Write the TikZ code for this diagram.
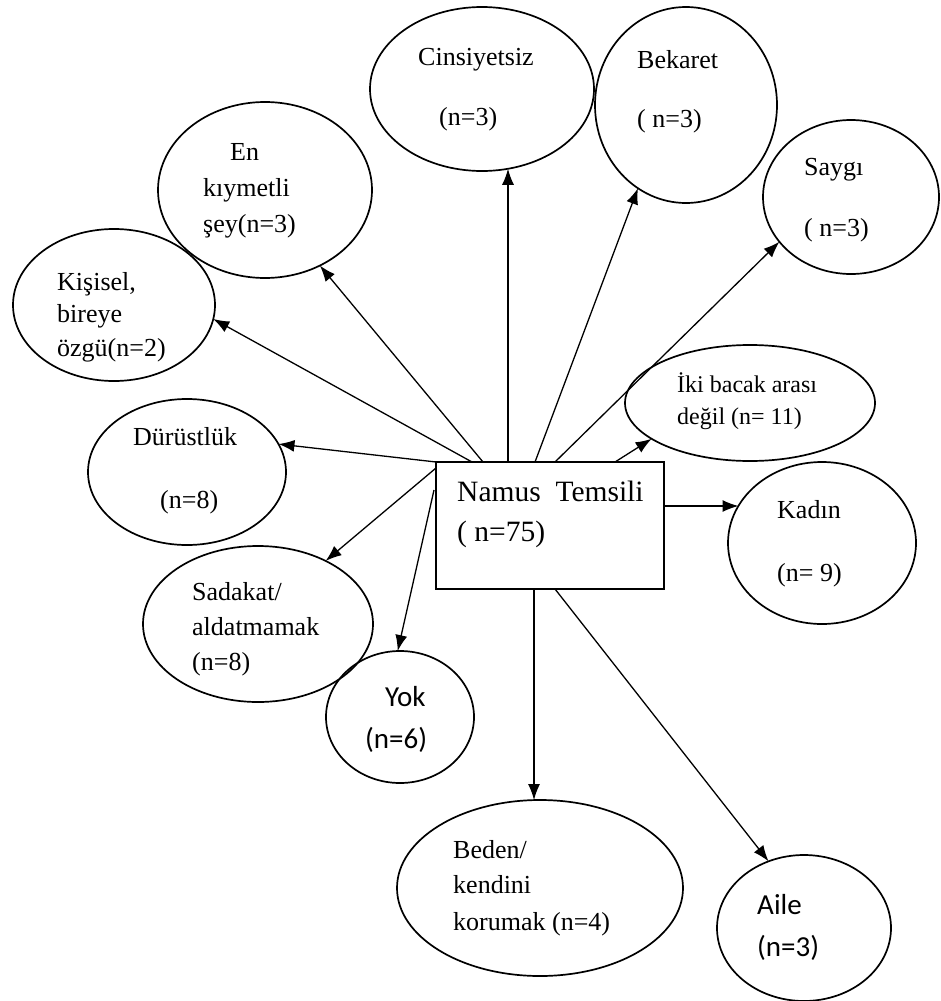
\documentclass[tikz,border=0pt]{standalone}
\usepackage{fontspec}
\setmainfont{Liberation Serif}
\newfontfamily\calibrifont{Carlito}
\usetikzlibrary{shapes.geometric,arrows.meta,calc}
\begin{document}
\begin{tikzpicture}[x=1pt,y=-1pt,
  oval/.style={draw, ellipse, line width=1.7pt, inner sep=0pt, outer sep=0pt},
  lbl/.style={anchor=base west, inner sep=0pt, font=\fontsize{26}{35}\selectfont},
  lblsmall/.style={anchor=base west, inner sep=0pt, font=\fontsize{24}{32}\selectfont},
  lblbig/.style={anchor=base west, inner sep=0pt, font=\fontsize{29.5}{40}\selectfont},
  lblsans/.style={anchor=base west, inner sep=0pt, font=\calibrifont\fontsize{29}{38}\selectfont},
  arr/.style={line width=1.3pt, -{Latex[length=16pt,width=12pt]}}]
\fill[white] (0,0) rectangle (940,1001);
\useasboundingbox (0,0) rectangle (940,1001);

% central box
\node[draw, line width=1.7pt, minimum width=228pt, minimum height=127pt, inner sep=0pt, outer sep=0pt] (box) at (550,525.5) {};
\node[lblbig] (boxt1) at (457,501) {Namus\ \ Temsili};
\node[lblbig] (boxt2) at (457,541) {( n=75)};

% ellipses
\node[oval, minimum width=224pt, minimum height=164pt] (cins) at (482,89) {};
\node[oval, minimum width=182pt, minimum height=196pt] (bek) at (686,105) {};
\node[oval, minimum width=176pt, minimum height=154pt] (say) at (851,197) {};
\node[oval, minimum width=214pt, minimum height=176pt] (enk) at (265,190) {};
\node[oval, minimum width=202pt, minimum height=152pt] (kis) at (114,305) {};
\node[oval, minimum width=198pt, minimum height=146pt] (dur) at (187,472) {};
\node[oval, minimum width=230pt, minimum height=156pt] (sad) at (258,624) {};
\node[oval, minimum width=148pt, minimum height=132pt] (yok) at (400,717) {};
\node[oval, minimum width=286pt, minimum height=176pt] (bed) at (540,888) {};
\node[oval, minimum width=174pt, minimum height=146pt] (aile) at (804,928) {};
\node[oval, minimum width=250pt, minimum height=116pt] (iki) at (750,403) {};
\node[oval, minimum width=188pt, minimum height=162pt] (kad) at (822,543) {};

% texts
\node[lbl] (cinst1) at (418,65) {Cinsiyetsiz};
\node[lbl] (cinst2) at (439,125) {(n=3)};
\node[lbl] (bekt1) at (637,68) {Bekaret};
\node[lbl] (bekt2) at (637,127) {( n=3)};
\node[lbl] (sayt1) at (804,175) {Saygı};
\node[lbl] (sayt2) at (804,236) {( n=3)};
\node[lbl] (enkt1) at (230,160) {En};
\node[lbl] (enkt2) at (203,196) {kıymetli};
\node[lbl] (enkt3) at (203,232) {şey(n=3)};
\node[lbl] (kist1) at (57,290) {Kişisel,};
\node[lbl] (kist2) at (57,322) {bireye};
\node[lbl] (kist3) at (57,356) {özgü(n=2)};
\node[lbl] (durt1) at (133,445) {Dürüstlük};
\node[lbl] (durt2) at (160,508) {(n=8)};
\node[lbl] (sadt1) at (192,600) {Sadakat/};
\node[lbl] (sadt2) at (192,635) {aldatmamak};
\node[lbl] (sadt3) at (192,670) {(n=8)};
\node[lblsans] (yokt1) at (385,706) {Yok};
\node[lblsans] (yokt2) at (365,748) {(n=6)};
\node[lbl] (bedt1) at (453,858) {Beden/};
\node[lbl] (bedt2) at (453,893) {kendini};
\node[lbl] (bedt3) at (453,930) {korumak (n=4)};
\node[lblsans] (ailet1) at (757,914) {Aile};
\node[lblsans] (ailet2) at (757,956) {(n=3)};
\node[lblsmall] (ikit1) at (677,392) {İki bacak arası};
\node[lblsmall] (ikit2) at (677,424) {değil (n= 11)};
\node[lbl] (kadt1) at (777,518) {Kadın};
\node[lbl] (kadt2) at (777,581) {(n= 9)};

% start points on the box
\coordinate (okis) at ($(box.north west)+(36,0)$);
\coordinate (oenk) at ($(box.north west)+(47,0)$);
\coordinate (ocins) at ($(box.north west)+(72,0)$);
\coordinate (obek) at ($(box.north west)+(99,0)$);
\coordinate (osay) at ($(box.north west)+(119,0)$);
\coordinate (oiki) at ($(box.north west)+(179,0)$);
\coordinate (okad) at ($(box.north east)+(0,44)$);
\coordinate (oaile) at ($(box.south west)+(119,0)$);
\coordinate (obed) at ($(box.south west)+(98,0)$);
\coordinate (oyok) at ($(box.north west)+(-2,28)$);
\coordinate (osad) at ($(box.north west)+(0,6)$);
\coordinate (odur) at (box.north west);

% connectors
\draw[arr] (okis) -- (kis.-8.3);
\draw[arr] (oenk) -- (enk.-54.5);
\draw[arr] (ocins) -- (ocins |- cins.-72);
\draw[arr] (obek) -- (bek.-120);
\draw[arr] (osay) -- (say.-148.8);
\draw[arr] (oiki) -- (iki.-160.9);
\draw[arr] (okad) -- (okad -| kad.156.2);
\draw[arr] (oaile) -- (aile.118.1);
\draw[arr] (obed) -- (obed |- bed.93.8);
\draw[arr] (oyok) -- (yok.92.6);
\draw[arr] (osad) -- (sad.43.3);
\draw[arr] (odur) -- (dur.17.2);
\end{tikzpicture}
\end{document}
